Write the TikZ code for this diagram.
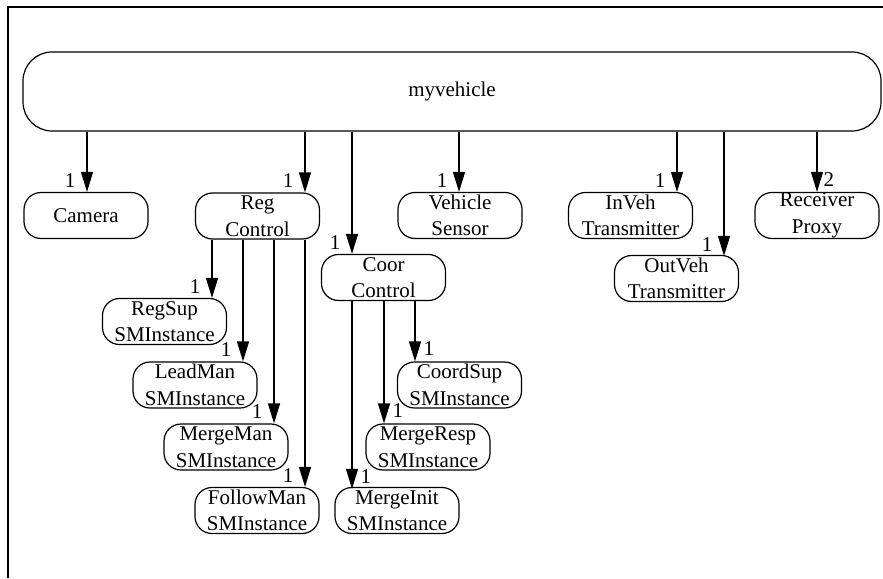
\documentclass[tikz,border=0pt]{standalone}
\usepackage{fontspec}
\setmainfont{Liberation Serif}
\usetikzlibrary{arrows.meta}

\begin{document}
\begin{tikzpicture}[x=1pt,y=-1pt,
  every node/.style={font=\fontsize{21}{26.5}\selectfont},
  obj/.style={draw, line width=1.2pt, rounded corners=17pt,
    minimum width=124pt, minimum height=46pt, inner sep=0pt, align=center},
  top/.style={draw, line width=1.2pt, rounded corners=29pt,
    minimum width=858pt, minimum height=79pt, inner sep=0pt},
  arr/.style={line width=1.2pt, -{Triangle[length=20pt,width=12pt]}},
  multL/.style={pos=1, anchor=south east, inner sep=0pt, xshift=-11pt, yshift=4pt},
  multR/.style={pos=1, anchor=south west, inner sep=0pt, xshift=8pt, yshift=5pt}]

\useasboundingbox (0,0) rectangle (883,578);

% open frame (top and left edges)
\draw[line width=1.6pt] (883,7) -- (8,7) -- (8,578);

% composite root
\node[top] (myv) at (452,91.5) {myvehicle};

% first-level parts
\node[obj] (cam) at (86,215.5)    {Camera};
\node[obj] (rc)  at (257.5,216)   {Reg\\Control};
\node[obj] (cc)  at (383.5,277.5) {Coor\\Control};
\node[obj] (vs)  at (460,215.5)   {Vehicle\\Sensor};
\node[obj] (itx) at (630.5,215.5) {InVeh\\Transmitter};
\node[obj] (otx) at (676.5,278.5) {OutVeh\\Transmitter};
\node[obj] (rp)  at (817,215.5)   {Receiver\\Proxy};

% state machine instances under Reg Control
\node[obj] (rsup) at (164.5,321.5) {RegSup\\SMInstance};
\node[obj] (lman) at (195,385)     {LeadMan\\SMInstance};
\node[obj] (mman) at (226,447)     {MergeMan\\SMInstance};
\node[obj] (fman) at (257,510.5)   {FollowMan\\SMInstance};

% state machine instances under Coor Control
\node[obj] (csup)  at (459.5,385) {CoordSup\\SMInstance};
\node[obj] (mresp) at (428,447)   {MergeResp\\SMInstance};
\node[obj] (minit) at (397,510.5) {MergeInit\\SMInstance};

% containment links from the root
\draw[arr] ([xshift=1pt]cam.north |- myv.south) -- ([xshift=1pt]cam.north) node[multL]{1};
\draw[arr] ([xshift=47.5pt]rc.north |- myv.south) -- ([xshift=47.5pt]rc.north) node[multL]{1};
\draw[arr] ([xshift=-31.5pt]cc.north |- myv.south) -- ([xshift=-31.5pt]cc.north) node[multL]{1};
\draw[arr] ([xshift=-1pt]vs.north |- myv.south) -- ([xshift=-1pt]vs.north) node[multL]{1};
\draw[arr] ([xshift=46.5pt]itx.north |- myv.south) -- ([xshift=46.5pt]itx.north) node[multL]{1};
\draw[arr] ([xshift=47.5pt]otx.north |- myv.south) -- ([xshift=47.5pt,yshift=-1pt]otx.north) node[multL]{1};
\draw[arr] (rp.north |- myv.south) -- (rp.north) node[multR, xshift=-2pt]{2};

% links from Reg Control
\draw[arr] ([xshift=47.5pt]rsup.north |- rc.south) -- ([xshift=47.5pt]rsup.north) node[multL]{1};
\draw[arr] ([xshift=48pt]lman.north |- rc.south) -- ([xshift=48pt]lman.north) node[multL]{1};
\draw[arr] ([xshift=48pt]mman.north |- rc.south) -- ([xshift=48pt]mman.north) node[multL]{1};
\draw[arr] ([xshift=48pt]fman.north |- rc.south) -- ([xshift=48pt]fman.north) node[multL]{1};

% links from Coor Control
\draw[arr] ([xshift=-44.5pt]csup.north |- cc.south) -- ([xshift=-44.5pt]csup.north) node[multR]{1};
\draw[arr] ([xshift=-44pt]mresp.north |- cc.south) -- ([xshift=-44pt]mresp.north) node[multR]{1};
\draw[arr] ([xshift=-45pt]minit.north |- cc.south) -- ([xshift=-45pt,yshift=-2pt]minit.north) node[multR]{1};

\end{tikzpicture}
\end{document}
